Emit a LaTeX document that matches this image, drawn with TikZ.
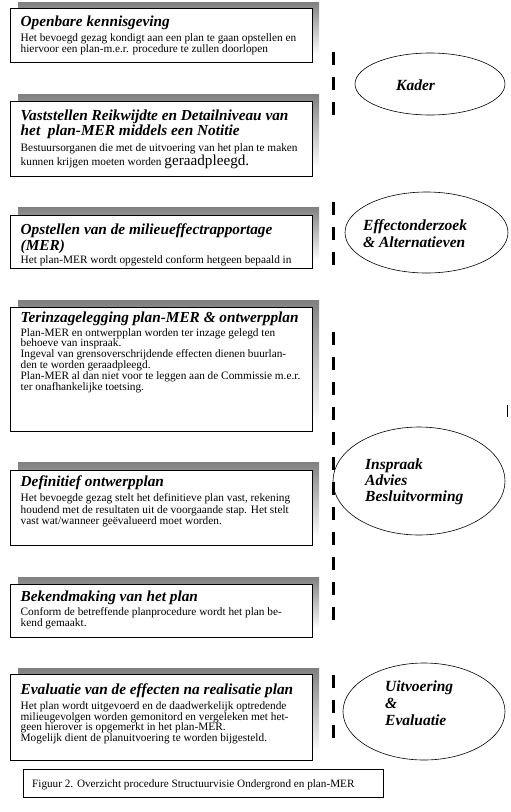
\documentclass[tikz,border=0pt]{standalone}
\usepackage{fontspec}
\setmainfont{Liberation Serif}
\usetikzlibrary{shapes.geometric}
\definecolor{shade}{RGB}{192,192,192}
\newcommand\lineblock[2]{\vtop{\baselineskip=#1pt\lineskiplimit=-100pt\lineskip=0pt\halign{##\hfil\cr#2\crcr}}}
\begin{document}
\begin{tikzpicture}[x=1pt,y=-1pt,
  stepbox/.style={draw=black, line width=1.3pt, fill=white, anchor=north west, minimum width=302pt, inner sep=0pt},
  ttl/.style={anchor=base west, inner sep=0pt, font=\fontsize{15.3}{17}\selectfont\bfseries\itshape},
  bdy/.style={anchor=base west, inner sep=0pt, font=\fontsize{11.3}{12}\selectfont},
  phase/.style={draw=black, line width=0.6pt, ellipse, inner sep=0pt},
  phasetxt/.style={anchor=base west, inner sep=0pt, font=\fontsize{15.5}{17}\selectfont\bfseries\itshape},
  sepline/.style={line width=3.3pt, dash pattern=on 13pt off 12pt}]
\useasboundingbox (0,0) rectangle (511,812);
\fill[white] (0,0) rectangle (511,812);

% shadows
\fill[shade] (18,2) rectangle (319,55);
\fill[shade] (18,94) rectangle (319,168);
\fill[shade] (18,207) rectangle (319,261);
\fill[shade] (18,300) rectangle (319,423);
\fill[shade] (18,462) rectangle (319,538);
\fill[shade] (18,577) rectangle (319,629);
\fill[shade] (18,668) rectangle (319,753);

% boxes
\node[stepbox, minimum height=54pt] (b1) at (10,8) {};
\node[stepbox, minimum height=75pt] (b2) at (10,101) {};
\node[stepbox, minimum height=53pt] (b3) at (10,215) {};
\node[stepbox, minimum height=124pt] (b4) at (10,307) {};
\node[stepbox, minimum height=75pt] (b5) at (10,470) {};
\node[stepbox, minimum height=53pt] (b6) at (10,584) {};
\node[stepbox, minimum height=86pt] (b7) at (10,674) {};

% box 1
\node[ttl] (t1) at (20.5,26) {Openbare kennisgeving};
\node[bdy] (d1) at (20.5,41) {\lineblock{11.5}{Het bevoegd gezag kondigt aan een plan te gaan opstellen en\cr hiervoor een plan-m.e.r. procedure te zullen doorlopen}};
% box 2
\node[ttl] (t2) at (20.5,120.7) {\lineblock{15}{Vaststellen Reikwijdte en Detailniveau van\cr het\ \ plan-MER middels een Notitie}};
\node[bdy] (d2) at (20.5,151.5) {\lineblock{13.5}{Bestuursorganen die met de uitvoering van het plan te maken\cr kunnen krijgen moeten worden {\fontsize{15.2}{16}\selectfont geraadpleegd.}}};
% box 3
\node[ttl] (t3) at (20.5,234.3) {\lineblock{16}{Opstellen van de milieueffectrapportage\cr (MER)}};
\node[bdy] (d3) at (20.5,263) {Het plan-MER wordt opgesteld conform hetgeen bepaald in};
% box 4
\node[ttl] (t4) at (20.5,322.7) {Terinzagelegging plan-MER \& ontwerpplan};
\node[bdy] (d4) at (20.5,336) {\lineblock{10.9}{Plan-MER en ontwerpplan worden ter inzage gelegd ten\cr behoeve van inspraak.\cr Ingeval van grensoverschrijdende effecten dienen buurlan-\cr den te worden geraadpleegd.\cr Plan-MER al dan niet voor te leggen aan de Commissie m.e.r.\cr ter onafhankelijke toetsing.}};
% box 5
\node[ttl] (t5) at (20.5,486.7) {Definitief ontwerpplan};
\node[bdy] (d5) at (20.5,501.7) {\lineblock{11.3}{Het bevoegde gezag stelt het definitieve plan vast, rekening\cr houdend met de resultaten uit de voorgaande stap. Het stelt\cr vast wat/wanneer geëvalueerd moet worden.}};
% box 6
\node[ttl] (t6) at (20.5,601) {Bekendmaking van het plan};
\node[bdy] (d6) at (20.5,615.7) {\lineblock{11}{Conform de betreffende planprocedure wordt het plan be-\cr kend gemaakt.}};
% box 7
\node[ttl] (t7) at (20.5,694.3) {Evaluatie van de effecten na realisatie plan};
\node[bdy] (d7) at (20.5,709.3) {\lineblock{10.8}{Het plan wordt uitgevoerd en de daadwerkelijk optredende\cr milieugevolgen worden gemonitord en vergeleken met het-\cr geen hierover is opgemerkt in het plan-MER.\cr Mogelijk dient de planuitvoering te worden bijgesteld.}};

% dashed separator
\draw[sepline] (333.5,52) -- (333.5,115);
\draw[sepline] (333.5,202) -- (333.5,265);
\draw[sepline] (333.5,332) -- (333.5,620);
\draw[sepline] (333.5,675) -- (333.5,738);
\draw[line width=0.8pt] (507,405) -- (507,417);

% phases
\node[phase, minimum width=150pt, minimum height=62pt] (e1) at (430,84) {};
\node[phasetxt] (p1) at (396,90) {Kader};
\node[phase, minimum width=163pt, minimum height=81pt] (e2) at (426.5,232.5) {};
\node[phasetxt] (p2) at (363,230) {\lineblock{17.3}{Effectonderzoek\cr \& Alternatieven}};
\node[phase, minimum width=172pt, minimum height=108pt] (e3) at (419,481) {};
\node[phasetxt] (p3) at (365,469) {\lineblock{16.4}{Inspraak\cr Advies\cr Besluitvorming}};
\node[phase, minimum width=162pt, minimum height=97pt] (e4) at (424,711.5) {};
\node[phasetxt] (p4) at (385,691.7) {\lineblock{16.7}{Uitvoering\cr \&\cr Evaluatie}};

% caption
\node[draw=black, line width=0.8pt, anchor=north west, minimum width=360pt, minimum height=28pt, inner sep=0pt] (cap) at (23,769) {};
\node[bdy, font=\fontsize{11.2}{12}\selectfont] (capt) at (32,787) {Figuur 2. Overzicht procedure Structuurvisie Ondergrond en plan-MER};
\end{tikzpicture}
\end{document}
